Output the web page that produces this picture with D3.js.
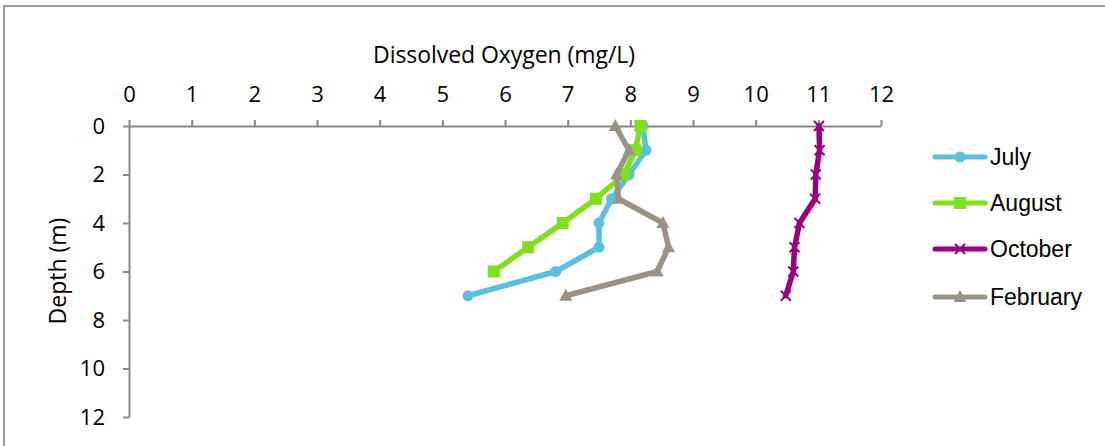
<!DOCTYPE html>
<html><head><meta charset="utf-8">
<script src="https://cdn.jsdelivr.net/npm/d3@7"></script>
<style>body{margin:0;background:#fff;} svg{display:block;}</style>
</head><body>
<svg id="c" width="1105" height="446"></svg>
<script>
const depths = [0,1,2,3,4,5,6,7];
const july = [8.2,8.25,7.98,7.7,7.5,7.5,6.81,5.41];
const august = [8.16,8.08,7.9,7.45,6.92,6.37,5.82];
const october = [11.01,11.02,10.96,10.95,10.7,10.62,10.6,10.48];
const february = [7.76,7.98,7.78,7.81,8.52,8.61,8.43,6.97];
const seriesNames = ["July","August","October","February"];
const seriesColors = ["#5BBFDF","#7FE01C","#990080","#9C9283"];
const seriesMarkers = ["circle","square","x","triangle"];
const xTicks = [0,1,2,3,4,5,6,7,8,9,10,11,12];
const yTicks = [0,2,4,6,8,10,12];

const svg = d3.select("#c");
svg.append("rect").attr("x",4).attr("y",6).attr("width",1300).attr("height",600)
  .attr("fill","none").attr("stroke","#999").attr("stroke-width",2);

const x = d3.scaleLinear().domain([0,12]).range([129,881]);
const y = d3.scaleLinear().domain([0,12]).range([126,417]);
const axisFont = "'Open Sans', sans-serif";

// X axis on top, ticks upward
const gx = svg.append("g").attr("transform","translate(0,126)")
  .call(d3.axisTop(x).tickValues(xTicks).tickSize(6).tickSizeOuter(0).tickPadding(18));
gx.select(".domain").attr("stroke","#868686").attr("stroke-width",2);
gx.selectAll(".tick line").attr("stroke","#868686").attr("stroke-width",2);
gx.selectAll(".tick text").attr("font-family",axisFont).attr("font-size",22).attr("fill","#000");

const gy = svg.append("g").attr("transform","translate(129,0)")
  .call(d3.axisLeft(y).tickValues(yTicks).tickSize(6).tickSizeOuter(0).tickPadding(18));
gy.select(".domain").attr("stroke","#868686").attr("stroke-width",2);
gy.selectAll(".tick line").attr("stroke","#868686").attr("stroke-width",2);
gy.selectAll(".tick text").attr("font-family",axisFont).attr("font-size",22).attr("fill","#000");

svg.append("text").attr("x",504).attr("y",63).attr("text-anchor","middle")
  .attr("font-family",axisFont).attr("font-size",23).attr("textLength",262).text("Dissolved Oxygen (mg/L)");
svg.append("text").attr("transform","translate(66,271) rotate(-90)").attr("text-anchor","middle")
  .attr("font-family",axisFont).attr("font-size",23).text("Depth (m)");

const data = [july,august,october,february];
const line = d3.line().x(d=>x(d.v)).y(d=>y(d.d));

function marker(g, type, color, cx, cy){
  if(type==="circle") g.append("circle").attr("cx",cx).attr("cy",cy).attr("r",5.5).attr("fill",color);
  else if(type==="square") g.append("rect").attr("x",cx-6).attr("y",cy-6).attr("width",12).attr("height",12).attr("fill",color);
  else if(type==="triangle") g.append("path").attr("d",`M${cx},${cy-7}L${cx+6.5},${cy+5}L${cx-6.5},${cy+5}Z`).attr("fill",color);
  else if(type==="x") g.append("path").attr("d",`M${cx-5},${cy-5}L${cx+5},${cy+5}M${cx+5},${cy-5}L${cx-5},${cy+5}`).attr("stroke",color).attr("stroke-width",2);
}

data.forEach((vals,i)=>{
  const pts = vals.map((v,j)=>({v:v,d:depths[j]}));
  const g = svg.append("g");
  g.append("path").attr("d",line(pts)).attr("fill","none").attr("stroke",seriesColors[i])
    .attr("stroke-width",5.5).attr("stroke-linejoin","round").attr("stroke-linecap","round");
  pts.forEach(p=>marker(g,seriesMarkers[i],seriesColors[i],x(p.v),y(p.d)));
});

// legend
const legY = [157,203,249,297];
seriesNames.forEach((n,i)=>{
  const g = svg.append("g");
  g.append("line").attr("x1",935).attr("x2",985).attr("y1",legY[i]).attr("y2",legY[i])
    .attr("stroke",seriesColors[i]).attr("stroke-width",5).attr("stroke-linecap","round");
  marker(g,seriesMarkers[i],seriesColors[i],960,legY[i]);
  g.append("text").attr("x",990).attr("y",legY[i]).attr("dy","0.35em")
    .attr("font-family","'Liberation Sans', Arial, sans-serif").attr("font-size",23).text(n);
});
</script>
</body></html>
